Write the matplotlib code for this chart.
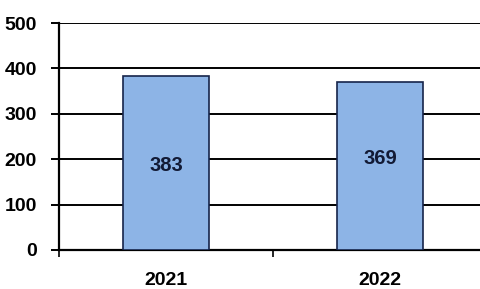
import matplotlib.pyplot as plt

years = ["2021", "2022"]
values = [383, 369]
label_y = [186, 202]
y_ticks = [0, 100, 200, 300, 400, 500]

plt.rcParams["font.family"] = ["Liberation Sans", "DejaVu Sans"]
plt.rcParams["font.weight"] = "bold"

fig = plt.figure(figsize=(4.81, 2.89), dpi=100)
ax = fig.add_axes([59 / 481, 1 - 250 / 289, 428 / 481, 227 / 289])

x = range(len(years))
ax.bar(x, values, width=0.4, color="#8db4e6", edgecolor="#16244a", linewidth=1.2, zorder=3)
for i, (v, ly) in enumerate(zip(values, label_y)):
  ax.text(i, ly, str(v), ha="center", va="center", fontsize=14.5, fontweight="bold", color="#121a35", zorder=4)

ax.set_xlim(-0.5, 1.5)
ax.set_ylim(0, 500)
ax.set_yticks(y_ticks)
ax.yaxis.grid(True, color="black", linewidth=1.4, zorder=1)
ax.set_xticks([0, 1])
ax.set_xticklabels(years, fontsize=14, fontweight="bold")
ax.set_xticks([-0.5, 0.5], minor=True)
ax.tick_params(axis="x", which="major", length=0, pad=16)
ax.tick_params(axis="x", which="minor", length=5, width=1.2, direction="out")
ax.tick_params(axis="y", length=6, width=1.4, pad=10, labelsize=14)
for lab in ax.get_yticklabels():
  lab.set_fontweight("bold")

for side in ["top", "right"]:
  ax.spines[side].set_visible(False)
ax.spines["left"].set_linewidth(1.6)
ax.spines["bottom"].set_linewidth(1.6)

fig.savefig("out.png", dpi=100)
